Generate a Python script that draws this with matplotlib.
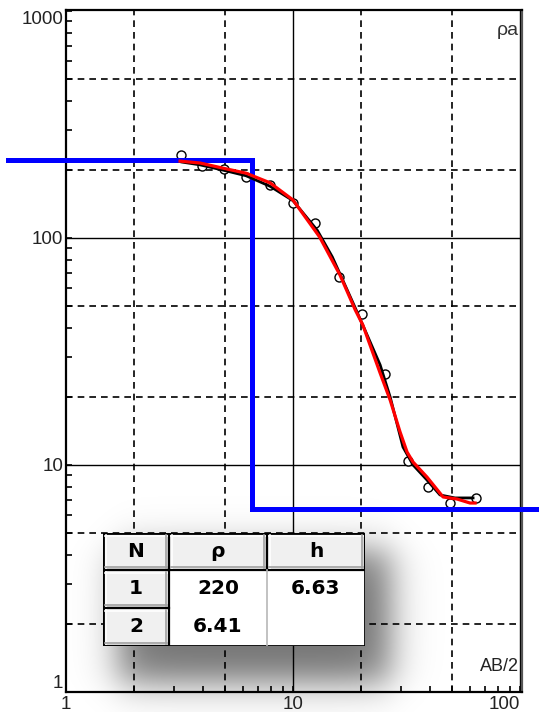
import numpy as np
import matplotlib
matplotlib.use("Agg")
import matplotlib.pyplot as plt
from matplotlib.patches import Rectangle
from matplotlib.ticker import LogLocator, NullFormatter

# field data: half electrode spacing AB/2 (m) and apparent resistivity (ohm.m)
ab2_obs = [3.2, 3.96, 4.97, 6.21, 7.92, 10.0, 12.5, 15.9, 20.1, 25.4, 32.1, 39.3, 49.2, 63.8]
rho_obs = [232, 208, 201, 186, 172, 143, 116, 67.6, 46.2, 25.2, 10.45, 8.02, 6.81, 7.16]

# smoothed field curve
ab2_smooth = [3.24, 3.89, 4.92, 6.21, 7.92, 10.0, 12.8, 14.9, 16.4, 18.8, 21.4, 24.2, 26.8,
              30.5, 33.8, 38.9, 44.4, 51.7, 62.1]
rho_smooth = [216, 210, 199, 188, 169, 146, 108, 82.5, 66.7, 49.2, 36.6, 27.6, 19.9,
              12.0, 10.0, 8.59, 7.38, 7.16, 7.16]

# response of the fitted model
ab2_fit = [3.18, 3.89, 4.92, 6.21, 7.92, 10.0, 13.1, 16.1, 18.8, 20.3, 24.2, 26.8, 29.6,
           31.8, 33.8, 38.9, 45.8, 52.8, 60.2, 63.4]
rho_fit = [218, 214, 203, 193, 175, 147, 101, 68.7, 48.2, 41.4, 25.4, 19.3, 14.0,
           11.4, 10.3, 8.85, 7.23, 7.08, 6.80, 6.80]

# layered model
layer_n = ["1", "2"]
layer_rho = [220, 6.41]
layer_h = [6.63]
model_ab2_span = (0.555, 121.3)

W, H, DPI = 539, 712, 100
fig = plt.figure(figsize=(W / DPI, H / DPI), dpi=DPI)
plt.rcParams["font.family"] = ["Liberation Sans", "DejaVu Sans"]

# soft drop shadow behind the table
yy, xx = np.mgrid[0:H, 0:W].astype(float)


def ramp(v, a, b, s):
    return 1 / (1 + np.exp(-(v - a) / s)) - 1 / (1 + np.exp(-(v - b) / s))


shade = 0.55 * ramp(xx, 118, 390, 11) * ramp(yy, 550, 682, 11)
rgba = np.zeros((H, W, 4))
rgba[..., 3] = shade
fig.figimage(rgba, xo=0, yo=0, origin="upper", zorder=0)

ax = fig.add_axes([66 / W, 1 - 692 / H, (521.5 - 66) / W, (692 - 10) / H])
ax.set_zorder(1)
ax.patch.set_alpha(0)
ax.set_xscale("log")
ax.set_yscale("log")
ax.set_xlim(1, 101.5)
ax.set_ylim(1, 1010)

for sp in ax.spines.values():
    sp.set_linewidth(1.6)
    sp.set_color("black")
ax.spines["right"].set_color("#555555")

# grid: solid at decades, dashed at 2 and 5
for v in [10, 100]:
    ax.axvline(v, color="black", lw=1.0, zorder=1)
    ax.axhline(v, color="black", lw=1.0, zorder=1)
for v in [2, 5, 20, 50]:
    ax.axvline(v, color="black", lw=1.2, ls=(0, (4, 3)), zorder=1)
for v in [2, 5, 20, 50, 200, 500]:
    ax.axhline(v, color="black", lw=1.2, ls=(0, (4, 3)), zorder=1)

ax.set_xticks([1, 10, 100])
ax.set_xticklabels(["1", "10", "100"])
ax.set_yticks([1, 10, 100, 1000])
ax.set_yticklabels(["1", "10", "100", "1000"])
ax.xaxis.set_minor_locator(LogLocator(base=10, subs=np.arange(2, 10)))
ax.yaxis.set_minor_locator(LogLocator(base=10, subs=np.arange(2, 10)))
ax.xaxis.set_minor_formatter(NullFormatter())
ax.yaxis.set_minor_formatter(NullFormatter())
ax.tick_params(which="both", direction="in", length=4.5, width=1.2, colors="black",
               labelsize=13.5)
ax.tick_params(axis="x", which="both", pad=3)
ax.tick_params(axis="y", which="both", pad=2)
ax.get_xticklabels()[2].set_horizontalalignment("right")
ax.get_yticklabels()[3].set_verticalalignment("top")
ax.get_yticklabels()[0].set_verticalalignment("bottom")
for lab in ax.get_xticklabels() + ax.get_yticklabels():
    lab.set_color("#222222")

# curves
ax.plot(ab2_obs, rho_obs, "o", ms=6.5, mfc="white", mec="black", mew=1.0, zorder=3)
ax.plot([model_ab2_span[0], layer_h[0], layer_h[0], model_ab2_span[1]],
        [layer_rho[0], layer_rho[0], layer_rho[1], layer_rho[1]],
        color="#0000ff", lw=3.6, clip_on=False, zorder=4, solid_joinstyle="miter")
ax.plot(ab2_smooth, rho_smooth, color="black", lw=2.0, zorder=5)
ax.plot(ab2_fit, rho_fit, color="#ff0000", lw=2.3, zorder=6)

ax.annotate("ρa", xy=(1, 1), xycoords="axes fraction", xytext=(-3, -12),
            textcoords="offset pixels", ha="right", va="top", fontsize=14, color="#333333")
ax.annotate("AB/2", xy=(1, 0), xycoords="axes fraction", xytext=(-3, 17),
            textcoords="offset pixels", ha="right", va="bottom", fontsize=13, color="#222222")

# layer table
tx0, ty0, tw, th = 103, 533, 262, 113
tab = fig.add_axes([tx0 / W, 1 - (ty0 + th) / H, tw / W, th / H])
tab.set_zorder(2)
tab.set_xlim(0, tw)
tab.set_ylim(th, 0)
tab.axis("off")

cols = [0, 66, 164, 262]
rows = [0, 37, 75, 113]
tab.add_patch(Rectangle((0, 0), tw, th, facecolor="white", edgecolor="none"))


def gray_cell(x0, y0, x1, y1):
    tab.add_patch(Rectangle((x0, y0), x1 - x0, y1 - y0, facecolor="#f0f0f0",
                            edgecolor="black", lw=1.6))
    tab.plot([x0 + 2, x1 - 2], [y0 + 2.5, y0 + 2.5], color="white", lw=1.2)
    tab.plot([x0 + 2.5, x0 + 2.5], [y0 + 2, y1 - 2], color="white", lw=1.2)
    tab.plot([x0 + 2, x1 - 2], [y1 - 3, y1 - 3], color="#a0a0a0", lw=1.2)
    tab.plot([x1 - 3, x1 - 3], [y0 + 2, y1 - 2], color="#a0a0a0", lw=1.2)


for i in range(3):
    gray_cell(cols[i], rows[0], cols[i + 1], rows[1])
for j in range(1, 3):
    gray_cell(cols[0], rows[j], cols[1], rows[j + 1])

tab.plot([cols[2], cols[2]], [rows[1], rows[3]], color="#b8b8b8", lw=1.2)
tab.add_patch(Rectangle((0, 0), tw, th, facecolor="none", edgecolor="black", lw=2.0))

bold = dict(ha="center", va="center", fontsize=14.5, fontweight="bold",
            family="DejaVu Sans", color="black")
for i, head in enumerate(["N", "ρ", "h"]):
    tab.text((cols[i] + cols[i + 1]) / 2, (rows[0] + rows[1]) / 2, head, **bold)
for j, n in enumerate(layer_n):
    yc = (rows[j + 1] + rows[j + 2]) / 2
    tab.text((cols[0] + cols[1]) / 2, yc, n, **bold)
    tab.text((cols[1] + cols[2]) / 2, yc, f"{layer_rho[j]:g}", **bold)
    if j < len(layer_h):
        tab.text((cols[2] + cols[3]) / 2, yc, f"{layer_h[j]:g}", **bold)

fig.savefig("out.png", dpi=DPI)
